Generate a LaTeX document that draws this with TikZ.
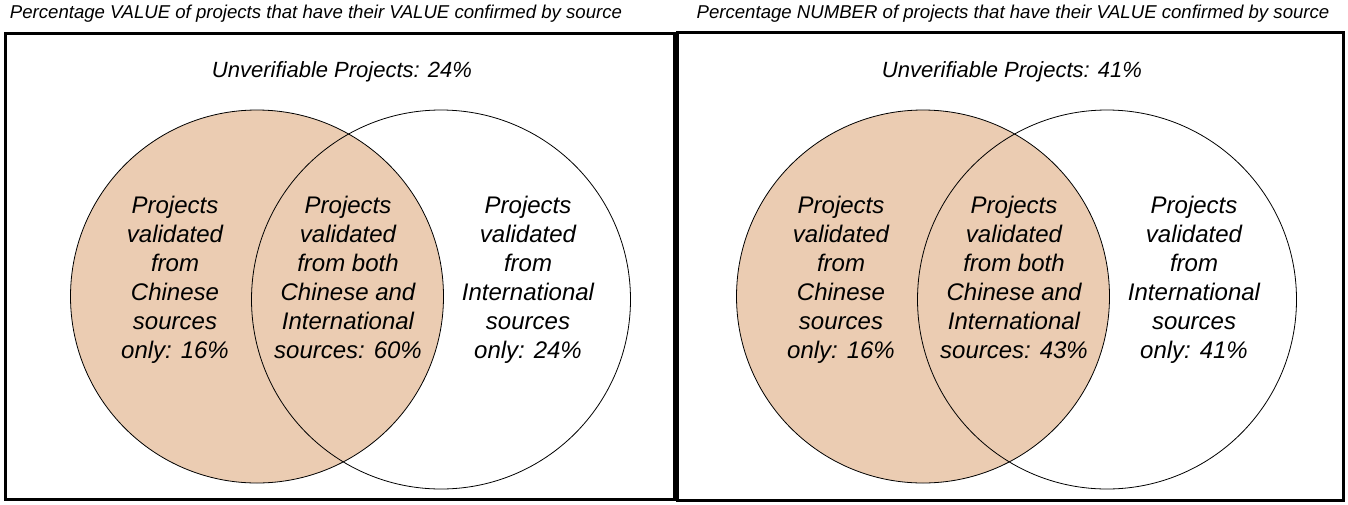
\documentclass[tikz,border=0pt]{standalone}
\usepackage{fontspec}
\setmainfont{Liberation Sans}
\definecolor{peach}{RGB}{235,204,178}
\begin{document}
\begin{tikzpicture}[x=1pt,y=-1pt,
  panel/.style={draw, line width=3pt},
  setA/.style={circle, draw, line width=0.8pt, fill=peach, inner sep=0pt, outer sep=0pt, minimum size=373pt},
  setB/.style={circle, draw, line width=0.8pt, inner sep=0pt, outer sep=0pt, minimum size=379pt},
  hdr/.style={font=\fontsize{18.6}{22}\selectfont\itshape, inner sep=0pt},
  ttl/.style={font=\fontsize{22}{26}\selectfont\itshape, inner sep=0pt},
  lbl/.style={font=\fontsize{24}{29}\selectfont\itshape, align=center, inner sep=0pt}]
\useasboundingbox (0,0) rectangle (1348,504);
\fill[white] (0,0) rectangle (1348,504);
% panels
\draw[panel] (5,33) rectangle (674,499);
\draw[panel] (677,32) rectangle (1343,500);
% headers
\node[hdr] (h1) at (316,14) {Percentage VALUE of projects that have their VALUE confirmed by source};
\node[hdr] (h2) at (1013,13.5) {Percentage NUMBER of projects that have their VALUE confirmed by source};
% left panel
\node[setA] (a1) at (257,296.5) {};
\node[setB] (b1) at (441,299.5) {};
\node[ttl] (t1) at (342,72) {Unverifiable Projects: 24\%};
\node[lbl] (l1) at (175,280) {\strut Projects\\validated\\from\\Chinese\\sources\\only: 16\%\strut};
\node[lbl] (m1) at (348,280) {\strut Projects\\validated\\from both\\Chinese and\\International\\sources: 60\%\strut};
\node[lbl] (r1) at (528,280) {\strut Projects\\validated\\from\\International\\sources\\only: 24\%\strut};
% right panel
\node[setA] (a2) at (923,296.5) {};
\node[setB] (b2) at (1107,299.5) {};
\node[ttl] (t2) at (1012,72) {Unverifiable Projects: 41\%};
\node[lbl] (l2) at (841,280) {\strut Projects\\validated\\from\\Chinese\\sources\\only: 16\%\strut};
\node[lbl] (m2) at (1014,280) {\strut Projects\\validated\\from both\\Chinese and\\International\\sources: 43\%\strut};
\node[lbl] (r2) at (1194,280) {\strut Projects\\validated\\from\\International\\sources\\only: 41\%\strut};
\end{tikzpicture}
\end{document}
